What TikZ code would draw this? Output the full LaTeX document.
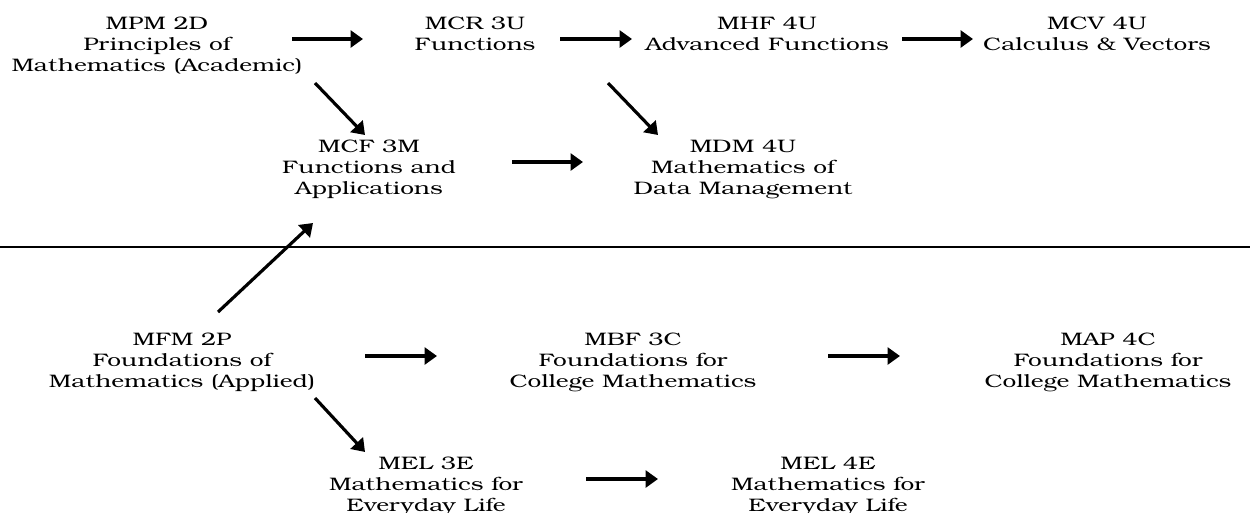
\documentclass[tikz,border=0pt]{standalone}
\usepackage{fontspec}
\setmainfont{texgyrebonum}[Extension=.otf, UprightFont=*-regular, FakeStretch=1.35]
\usetikzlibrary{arrows.meta}
\tikzset{
  course/.style={anchor=north, align=center, inner sep=0pt, font=\fontsize{10.3}{11.9}\selectfont},
  arr/.style={-{Triangle[length=7pt,width=9.5pt]}, line width=1.8pt},
}
\begin{document}
\begin{tikzpicture}[x=0.02cm, y=-0.02cm]
\useasboundingbox (0,0) rectangle (1250,512);
% university / college stream
\node[course] (mpm) at (157,17) {MPM 2D\\Principles of\\Mathematics (Academic)};
\node[course] (mcr) at (475,17) {MCR 3U\\Functions};
\node[course] (mhf) at (767,17) {MHF 4U\\Advanced Functions};
\node[course] (mcv) at (1097,17) {MCV 4U\\Calculus \& Vectors};
\node[course] (mcf) at (369,140) {MCF 3M\\Functions and\\Applications};
\node[course] (mdm) at (743,140) {MDM 4U\\Mathematics of\\Data Management};
% applied stream
\node[course] (mfm) at (182,333) {MFM 2P\\Foundations of\\Mathematics (Applied)};
\node[course] (mbf) at (633,333) {MBF 3C\\Foundations for\\College Mathematics};
\node[course] (map) at (1108,333) {MAP 4C\\Foundations for\\College Mathematics};
\node[course] (melthree) at (426,457) {MEL 3E\\Mathematics for\\Everyday Life};
\node[course] (melfour) at (828,457) {MEL 4E\\Mathematics for\\Everyday Life};
% divider
\draw[line width=0.6pt] (0,247) -- (1250,247);
% arrows
\draw[arr] ([shift={(135,22)}]mpm.north) -- ([shift={(-112,22)}]mcr.north);
\draw[arr] ([shift={(85,22)}]mcr.north) -- ([shift={(-135,22)}]mhf.north);
\draw[arr] ([shift={(135,22)}]mhf.north) -- ([shift={(-124,22)}]mcv.north);
\draw[arr] ([shift={(158,66)}]mpm.north) -- ([shift={(-4,-5)}]mcf.north);
\draw[arr] ([shift={(133,66)}]mcr.north) -- ([shift={(-85,-5)}]mdm.north);
\draw[arr] ([shift={(143,22)}]mcf.north) -- ([shift={(-160,22)}]mdm.north);
\draw[arr] ([shift={(36,-21)}]mfm.north) -- ([shift={(-56,83)}]mcf.north);
\draw[arr] ([shift={(183,23)}]mfm.north) -- ([shift={(-196,23)}]mbf.north);
\draw[arr] ([shift={(195,23)}]mbf.north) -- ([shift={(-208,23)}]map.north);
\draw[arr] ([shift={(133,65)}]mfm.north) -- ([shift={(-61,-5)}]melthree.north);
\draw[arr] ([shift={(160,22)}]melthree.north) -- ([shift={(-170,22)}]melfour.north);
\end{tikzpicture}
\end{document}
